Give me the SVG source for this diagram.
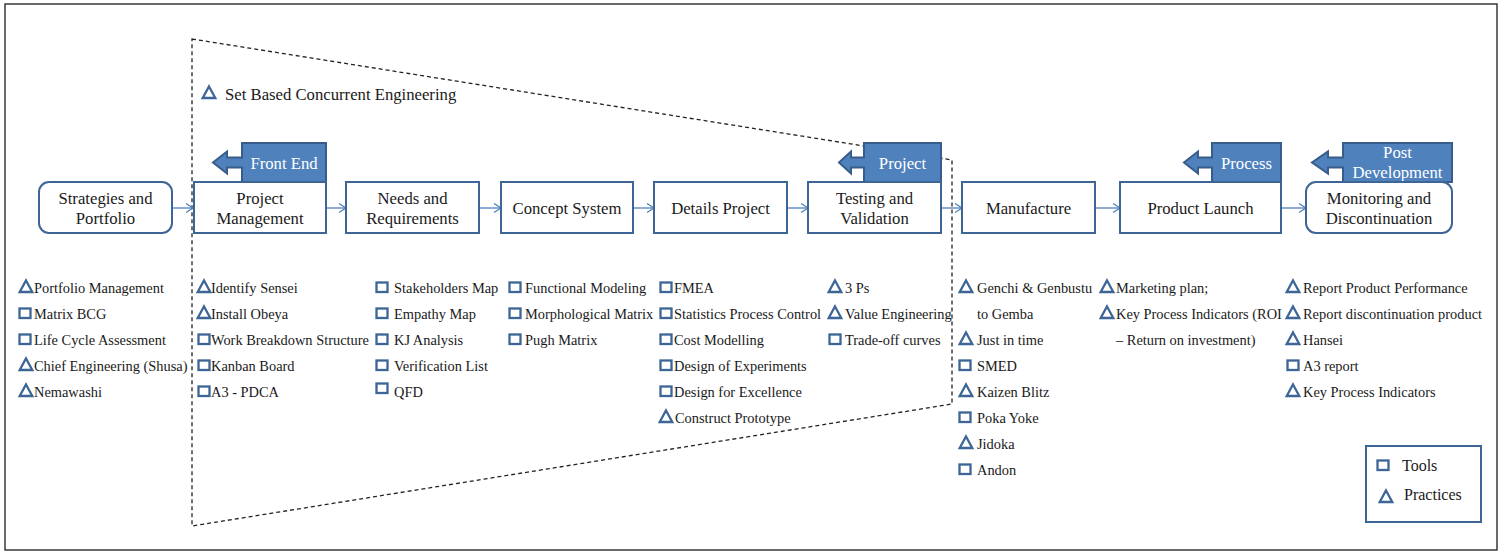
<svg xmlns="http://www.w3.org/2000/svg" width="1504" height="554" viewBox="0 0 1504 554">
<style>
  .frame{fill:#fff;stroke:#3a3a3a;stroke-width:1.5}
  .box{fill:#fff;stroke:#3d6595;stroke-width:2}
  .tab{fill:#4f81bd;stroke:#385d8a;stroke-width:2;stroke-linejoin:miter}
  .bt{font-family:"Liberation Serif","Times New Roman",serif;font-size:16.7px;fill:#1a1a1a;text-anchor:middle}
  .tt{font-family:"Liberation Serif","Times New Roman",serif;font-size:16.7px;fill:#fff;text-anchor:middle}
  .lt{font-family:"Liberation Serif","Times New Roman",serif;font-size:14.4px;fill:#1a1a1a}
  .gt{font-family:"Liberation Serif","Times New Roman",serif;font-size:16px;fill:#1a1a1a}
  .dash{fill:none;stroke:#222;stroke-width:1.3;stroke-dasharray:4 3}
  .con{fill:none;stroke:#4f81bd;stroke-width:1.3}
  .ic{fill:none;stroke:#3d6595;stroke-width:2.3}
</style>
<defs>
  <marker id="arr" markerWidth="10" markerHeight="12" refX="8" refY="5" orient="auto" markerUnits="userSpaceOnUse">
    <path d="M1,0.5 L8,5 L1,9.5" fill="none" stroke="#4f81bd" stroke-width="1.3"/>
  </marker>
  <rect id="sq" class="ic" x="-5.5" y="-10.5" width="11" height="9.5"/>
  <path id="tr" class="ic" d="M0,-12.5 L6.3,-1 L-6.3,-1 Z"/>
</defs>

<rect class="frame" x="5" y="4" width="1492" height="546"/>

<g id="sbce-region">
  <path class="dash" d="M192,39 L952,160 L952,404 L192,526 Z"/>
  <use href="#tr" x="209" y="99"/>
  <text class="gt" x="225" y="99.5" style="font-size:16.7px">Set Based Concurrent Engineering</text>
</g>

<g id="connectors">
  <line class="con" x1="172" y1="208" x2="193" y2="208" marker-end="url(#arr)"/>
  <line class="con" x1="326" y1="208" x2="346" y2="208" marker-end="url(#arr)"/>
  <line class="con" x1="479" y1="208" x2="501" y2="208" marker-end="url(#arr)"/>
  <line class="con" x1="633" y1="208" x2="654" y2="208" marker-end="url(#arr)"/>
  <line class="con" x1="787" y1="208" x2="808" y2="208" marker-end="url(#arr)"/>
  <line class="con" x1="941" y1="208" x2="962" y2="208" marker-end="url(#arr)"/>
  <line class="con" x1="1095" y1="208" x2="1120" y2="208" marker-end="url(#arr)"/>
  <line class="con" x1="1281" y1="208" x2="1306" y2="208" marker-end="url(#arr)"/>
</g>

<g id="tab-front-end">
  <path class="tab" d="M326,143 H242 V157.5 H227 V151.5 L213,162.5 L227,173.5 V167.5 H242 V182 H326 Z"/>
  <text class="tt" x="284" y="168.5">Front End</text>
</g>
<g id="tab-project">
  <path class="tab" d="M941,143 H864 V157.5 H851 V151.5 L839,162.5 L851,173.5 V167.5 H864 V182 H941 Z"/>
  <text class="tt" x="902.5" y="168.5">Project</text>
</g>
<g id="tab-process">
  <path class="tab" d="M1281,143 H1212 V157.5 H1198 V151.5 L1184,162.5 L1198,173.5 V167.5 H1212 V182 H1281 Z"/>
  <text class="tt" x="1246.5" y="168.5">Process</text>
</g>
<g id="tab-post-development">
  <path class="tab" d="M1452,143 H1343 V157.5 H1328 V151.5 L1312,162.5 L1328,173.5 V167.5 H1343 V182 H1452 Z"/>
  <text class="tt" x="1397.5" y="157.5">Post</text>
  <text class="tt" x="1397.5" y="177.5">Development</text>
</g>

<g id="node-strategies">
  <rect class="box" x="39" y="182" width="133" height="51" rx="10"/>
  <text class="bt" x="105.5" y="203.5">Strategies and</text>
  <text class="bt" x="105.5" y="223.5">Portfolio</text>
</g>
<g id="node-project-management">
  <rect class="box" x="194" y="182" width="132" height="51"/>
  <text class="bt" x="260" y="203.5">Project</text>
  <text class="bt" x="260" y="223.5">Management</text>
</g>
<g id="node-needs">
  <rect class="box" x="346" y="182" width="133" height="51"/>
  <text class="bt" x="412.5" y="203.5">Needs and</text>
  <text class="bt" x="412.5" y="223.5">Requirements</text>
</g>
<g id="node-concept">
  <rect class="box" x="501" y="182" width="132" height="51"/>
  <text class="bt" x="567" y="213.5">Concept System</text>
</g>
<g id="node-details">
  <rect class="box" x="654" y="182" width="133" height="51"/>
  <text class="bt" x="720.5" y="213.5">Details Project</text>
</g>
<g id="node-testing">
  <rect class="box" x="808" y="182" width="133" height="51"/>
  <text class="bt" x="874.5" y="203.5">Testing and</text>
  <text class="bt" x="874.5" y="223.5">Validation</text>
</g>
<g id="node-manufacture">
  <rect class="box" x="962" y="182" width="133" height="51"/>
  <text class="bt" x="1028.5" y="213.5">Manufacture</text>
</g>
<g id="node-product-launch">
  <rect class="box" x="1120" y="182" width="161" height="51"/>
  <text class="bt" x="1200.5" y="213.5">Product Launch</text>
</g>
<g id="node-monitoring">
  <rect class="box" x="1306" y="182" width="146" height="51" rx="10"/>
  <text class="bt" x="1379" y="203.5">Monitoring and</text>
  <text class="bt" x="1379" y="223.5">Discontinuation</text>
</g>

<g id="list-strategies">
  <use href="#tr" x="26" y="293"/><text class="lt" x="34" y="293">Portfolio Management</text>
  <use href="#sq" x="25" y="319"/><text class="lt" x="34" y="319">Matrix BCG</text>
  <use href="#sq" x="25" y="345"/><text class="lt" x="34" y="345">Life Cycle Assessment</text>
  <use href="#tr" x="26" y="371"/><text class="lt" x="34" y="371">Chief Engineering (Shusa)</text>
  <use href="#tr" x="26" y="397"/><text class="lt" x="34" y="397">Nemawashi</text>
</g>
<g id="list-project-management">
  <use href="#tr" x="204" y="293"/><text class="lt" x="211" y="293">Identify Sensei</text>
  <use href="#tr" x="204" y="319"/><text class="lt" x="211" y="319">Install Obeya</text>
  <use href="#sq" x="204" y="345"/><text class="lt" x="211" y="345">Work Breakdown Structure</text>
  <use href="#sq" x="204" y="371"/><text class="lt" x="211" y="371">Kanban Board</text>
  <use href="#sq" x="204" y="397"/><text class="lt" x="211" y="397">A3 - PDCA</text>
</g>
<g id="list-needs">
  <use href="#sq" x="382" y="293"/><text class="lt" x="394" y="293">Stakeholders Map</text>
  <use href="#sq" x="382" y="319"/><text class="lt" x="394" y="319">Empathy Map</text>
  <use href="#sq" x="382" y="345"/><text class="lt" x="394" y="345">KJ Analysis</text>
  <use href="#sq" x="382" y="371"/><text class="lt" x="394" y="371">Verification List</text>
  <use href="#sq" x="382" y="394"/><text class="lt" x="394" y="397">QFD</text>
</g>
<g id="list-concept">
  <use href="#sq" x="515" y="293"/><text class="lt" x="525" y="293">Functional Modeling</text>
  <use href="#sq" x="515" y="319"/><text class="lt" x="525" y="319">Morphological Matrix</text>
  <use href="#sq" x="515" y="345"/><text class="lt" x="525" y="345">Pugh Matrix</text>
</g>
<g id="list-details">
  <use href="#sq" x="666" y="293"/><text class="lt" x="674" y="293">FMEA</text>
  <use href="#sq" x="666" y="319"/><text class="lt" x="674" y="319">Statistics Process Control</text>
  <use href="#sq" x="666" y="345"/><text class="lt" x="674" y="345">Cost Modelling</text>
  <use href="#sq" x="666" y="371"/><text class="lt" x="674" y="371">Design of Experiments</text>
  <use href="#sq" x="666" y="397"/><text class="lt" x="674" y="397">Design for Excellence</text>
  <use href="#tr" x="666" y="423"/><text class="lt" x="675" y="423">Construct Prototype</text>
</g>
<g id="list-testing">
  <use href="#tr" x="835" y="293"/><text class="lt" x="845" y="293">3 Ps</text>
  <use href="#tr" x="835" y="319"/><text class="lt" x="845" y="319">Value Engineering</text>
  <use href="#sq" x="835" y="345"/><text class="lt" x="845" y="345">Trade-off curves</text>
</g>
<g id="list-manufacture">
  <use href="#tr" x="966" y="293"/><text class="lt" x="977" y="293">Genchi &amp; Genbustu</text>
  <text class="lt" x="977" y="319">to Gemba</text>
  <use href="#tr" x="966" y="345"/><text class="lt" x="977" y="345">Just in time</text>
  <use href="#sq" x="965" y="371"/><text class="lt" x="977" y="371">SMED</text>
  <use href="#tr" x="966" y="397"/><text class="lt" x="977" y="397">Kaizen Blitz</text>
  <use href="#sq" x="965" y="423"/><text class="lt" x="977" y="423">Poka Yoke</text>
  <use href="#tr" x="966" y="449"/><text class="lt" x="977" y="449">Jidoka</text>
  <use href="#sq" x="965" y="475"/><text class="lt" x="977" y="475">Andon</text>
</g>
<g id="list-product-launch">
  <use href="#tr" x="1107" y="293"/><text class="lt" x="1116" y="293">Marketing plan;</text>
  <use href="#tr" x="1107" y="319"/><text class="lt" x="1116" y="319">Key Process Indicators (ROI</text>
  <text class="lt" x="1116" y="345">– Return on investment)</text>
</g>
<g id="list-monitoring">
  <use href="#tr" x="1293" y="293"/><text class="lt" x="1303" y="293">Report Product Performance</text>
  <use href="#tr" x="1293" y="319"/><text class="lt" x="1303" y="319">Report discontinuation product</text>
  <use href="#tr" x="1293" y="345"/><text class="lt" x="1303" y="345">Hansei</text>
  <use href="#sq" x="1293" y="371"/><text class="lt" x="1303" y="371">A3 report</text>
  <use href="#tr" x="1293" y="397"/><text class="lt" x="1303" y="397">Key Process Indicators</text>
</g>

<g id="legend">
  <rect class="box" x="1366" y="446" width="115" height="76"/>
  <use href="#sq" x="1383" y="471"/><text class="gt" x="1402" y="471">Tools</text>
  <use href="#tr" x="1386" y="503"/><text class="gt" x="1404" y="500">Practices</text>
</g>
</svg>
